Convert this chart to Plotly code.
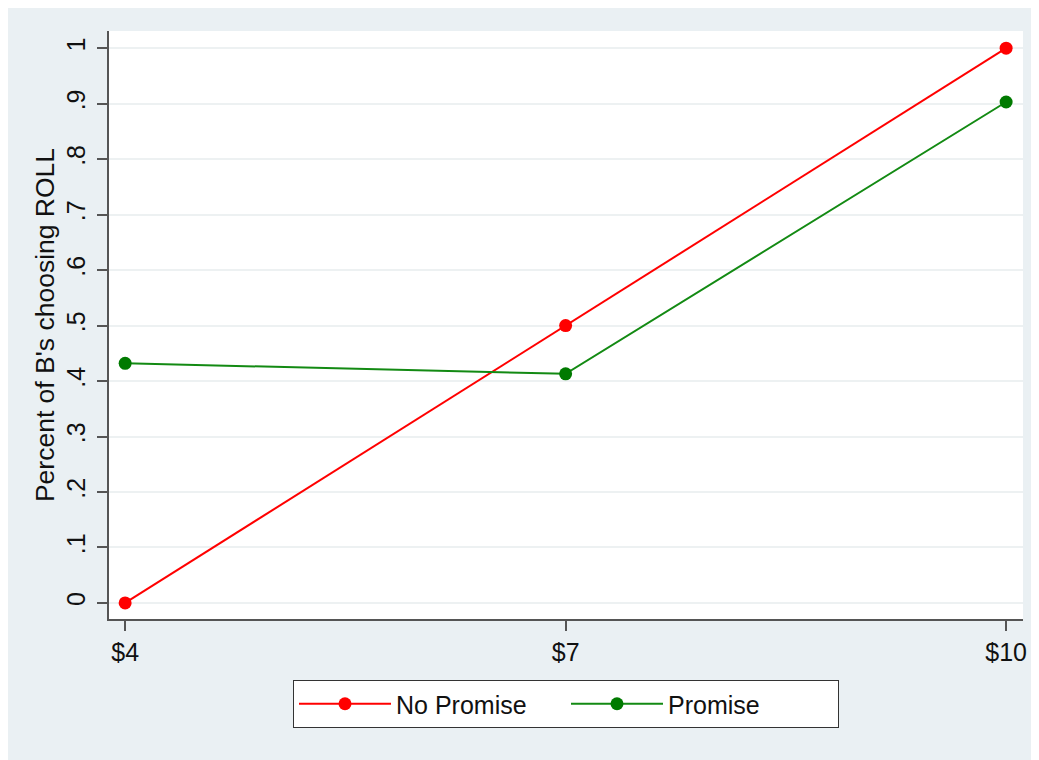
import plotly.graph_objects as go

# Data
x_vals = [4, 7, 10]
x_labels = ["$4", "$7", "$10"]
no_promise = [0.0, 0.5, 1.0]
promise = [0.432, 0.413, 0.903]
y_ticks = [0, 0.1, 0.2, 0.3, 0.4, 0.5, 0.6, 0.7, 0.8, 0.9, 1.0]
y_tick_labels = ["0", ".1", ".2", ".3", ".4", ".5", ".6", ".7", ".8", ".9", "1"]

# page body has an 8px margin, which gives the thin white border
W, H = 1031, 752
L, R, T, B = 101, 16, 23, 141
ph = H - T - B

FONT = "Arial, Liberation Sans, sans-serif"
BG = "#eaf0f3"

fig = go.Figure()
fig.add_trace(go.Scatter(
    x=x_vals, y=no_promise, mode="lines+markers", name="No Promise",
    line=dict(color="#ff0000", width=2), marker=dict(color="#ff0000", size=13),
))
fig.add_trace(go.Scatter(
    x=x_vals, y=promise, mode="lines+markers", name="Promise",
    line=dict(color="#138a13", width=2), marker=dict(color="#007a00", size=13),
))

fig.update_layout(
    width=W, height=H,
    margin=dict(l=L, r=R, t=T, b=B, autoexpand=False),
    paper_bgcolor=BG,
    plot_bgcolor="white",
    font=dict(family=FONT, color="#111111", size=25),
    showlegend=True,
    legend=dict(
        orientation="h", x=0.5, xanchor="center", y=-(672 - (T + ph)) / ph,
        yanchor="top", bgcolor="white", bordercolor="#333333", borderwidth=1,
        font=dict(size=25, family=FONT, color="#111111"),
        itemwidth=92, entrywidth=165,
    ),
    xaxis=dict(
        range=[3.89, 10.115], tickmode="array", tickvals=x_vals, ticktext=x_labels,
        showgrid=False, zeroline=False, showline=True, linecolor="#555555", linewidth=1.5,
        ticks="outside", ticklen=10, tickcolor="#555555", tickwidth=1.5,
        tickfont=dict(size=25, family=FONT, color="#111111"),
    ),
    yaxis=dict(
        range=[-0.029, 1.031], tickmode="array", tickvals=y_ticks, ticktext=y_tick_labels,
        showgrid=True, gridcolor="#edf1f2", gridwidth=1.5, zeroline=False,
        showline=True, linecolor="#555555", linewidth=1.5,
        ticks="outside", ticklen=10, tickcolor="#555555", tickwidth=1.5,
        tickangle=-90, ticklabelstandoff=2,
        tickfont=dict(size=25, family=FONT, color="#111111"),
        title=dict(text="Percent of B's choosing ROLL", standoff=0,
                   font=dict(size=26.5, family=FONT, color="#111111")),
    ),
)

fig.write_html("out.html")
